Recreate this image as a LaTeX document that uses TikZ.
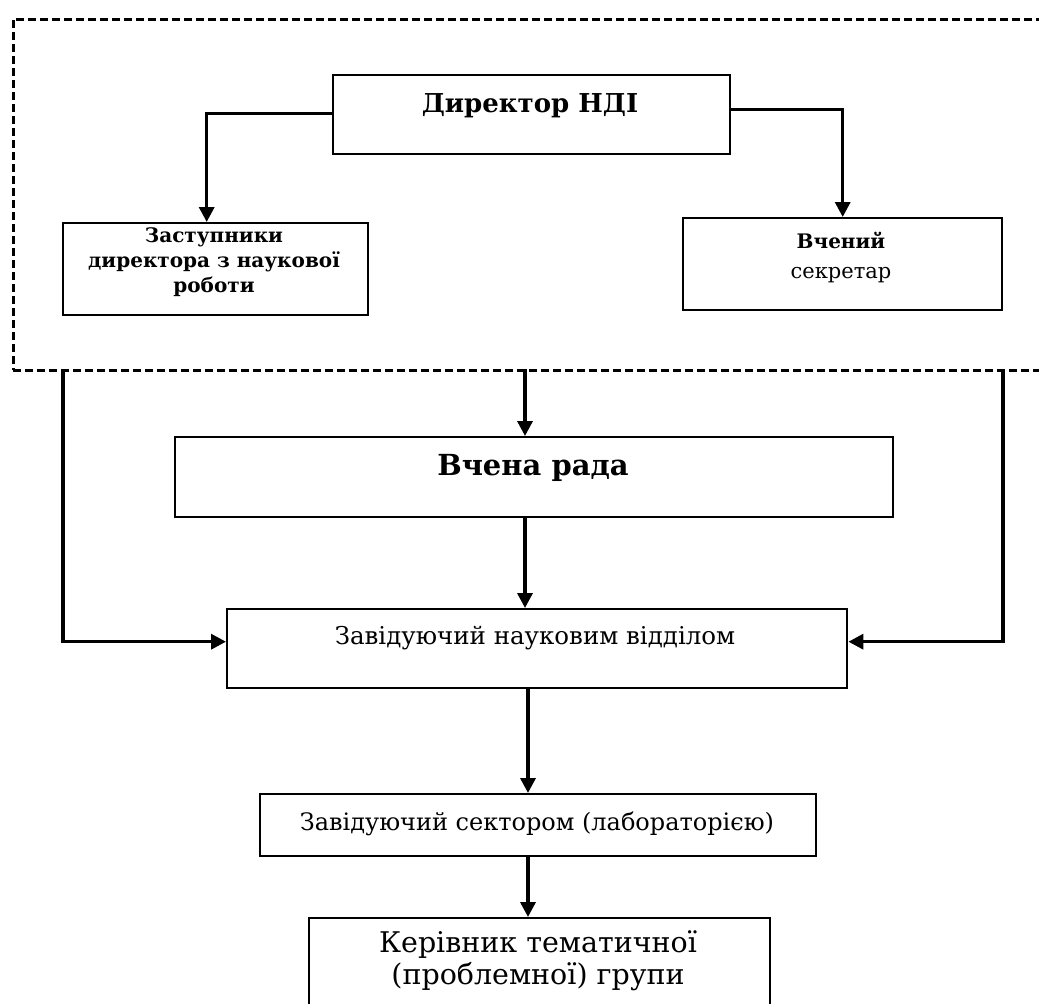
\documentclass[tikz,border=0pt]{standalone}
\usepackage{fontspec}
\setmainfont{DejaVu Serif}
\usetikzlibrary{arrows.meta,calc}
\begin{document}
\begin{tikzpicture}[x=1pt,y=-1pt,
  box/.style={draw,line width=2.4pt,inner sep=0pt,anchor=north west},
  frame/.style={draw,line width=2.8pt,dash pattern=on 8pt off 4pt,inner sep=0pt,anchor=north west},
  txt/.style={inner sep=0pt,align=center},
  arr/.style={line width=3.4pt,-{Triangle[length=15pt,width=15pt]}},
  ]
\useasboundingbox (0,0) rectangle (1039,1004);
\clip (0,0) rectangle (1039,1004);

% dashed frame
\node[frame,minimum width=1060pt,minimum height=351pt] (frame) at (12,18) {};

% boxes
\node[box,minimum width=397pt,minimum height=79pt] (dir) at (332,74) {};
\node[box,minimum width=305pt,minimum height=92pt] (zast) at (62,222) {};
\node[box,minimum width=319pt,minimum height=92pt] (vsek) at (682,217) {};
\node[box,minimum width=718pt,minimum height=80pt] (rada) at (174,436) {};
\node[box,minimum width=620pt,minimum height=79pt] (zav) at (226,608) {};
\node[box,minimum width=556pt,minimum height=62pt] (sekt) at (259,793) {};
\node[box,minimum width=461pt,minimum height=130pt] (ker) at (308,917) {};

% texts
\node[txt,font=\fontsize{26}{30}\selectfont\bfseries] (dirT) at (530,106) {Директор НДІ};
\node[txt,font=\fontsize{20}{25}\selectfont\bfseries] (zastT) at (214,262) {Заступники\\директора з наукової\\роботи};
\node[txt,font=\fontsize{21}{30}\selectfont] (vsekT) at (841,258) {{\fontsize{20}{30}\selectfont\bfseries Вчений}\\секретар};
\node[txt,font=\fontsize{29}{32}\selectfont\bfseries] (radaT) at (533,468) {Вчена рада};
\node[txt,font=\fontsize{24.5}{28}\selectfont] (zavT) at (535,638) {Завідуючий науковим відділом};
\node[txt,font=\fontsize{24}{28}\selectfont] (sektT) at (537,824) {Завідуючий сектором (лабораторією)};
\node[txt,font=\fontsize{28.5}{32}\selectfont] (kerT) at (538,961) {Керівник тематичної\\(проблемної) групи};

% helper coordinates on the frame bottom
\coordinate (fl) at (63,369);
\coordinate (fc) at (525,369);
\coordinate (fr) at (1003,369);
\coordinate (sp) at (528,700);

% connectors
\draw[arr] ([yshift=1pt]dir.west) -| ([xshift=-9pt]zast.north);
\draw[arr] ([yshift=5pt]dir.east) -| (vsek.north);
\draw[arr] (fc) -- (fc |- rada.north);
\draw[arr] (rada.south -| fc) -- (zav.north -| fc);
\draw[arr] (fl) |- ([yshift=7pt]zav.west);
\draw[arr] (fr) |- ([yshift=7pt]zav.east);
\draw[arr] (zav.south -| sp) -- (sekt.north -| sp);
\draw[arr] (sekt.south -| sp) -- (ker.north -| sp);
\end{tikzpicture}
\end{document}
